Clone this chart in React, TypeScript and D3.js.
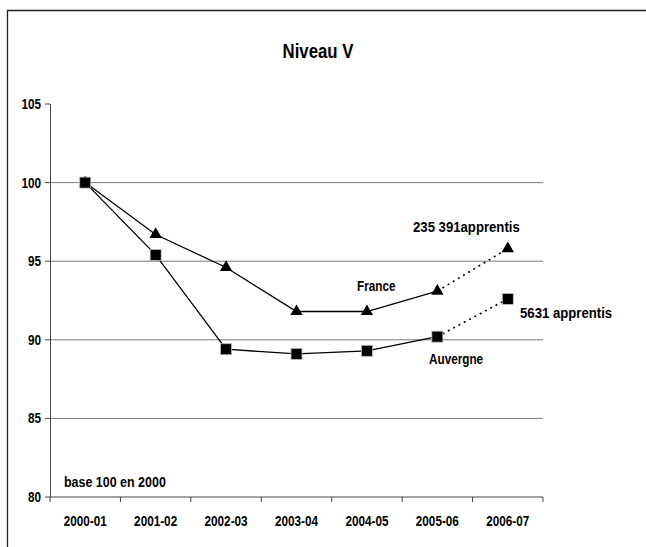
import React from "react";
import * as d3 from "d3";

const years = ["2000-01", "2001-02", "2002-03", "2003-04", "2004-05", "2005-06", "2006-07"];
const france = [100, 96.7, 94.6, 91.8, 91.8, 93.1, 95.8];
const auvergne = [100, 95.4, 89.4, 89.1, 89.3, 90.2, 92.6];
const yTicks = [80, 85, 90, 95, 100, 105];
const gridValues = [85, 90, 95, 100];

const W = 646;
const H = 547;
const font = "'Liberation Sans', Arial, sans-serif";

// the original uses a condensed face: squeeze Liberation Sans horizontally
function T({ x, y, size = 14, anchor = "start", sx = 0.84, children }: any) {
  return (
    <text transform={`translate(${x},${y}) scale(${sx},1)`} textAnchor={anchor} fontSize={size}>
      {children}
    </text>
  );
}

export default function App() {
  const x = d3.scaleBand().domain(years).range([50, 543]).paddingInner(0).paddingOuter(0);
  const y = d3.scaleLinear().domain([80, 105]).range([497, 104]);
  const cx = (d: string) => (x(d) as number) + x.bandwidth() / 2;

  const line = d3
    .line<number>()
    .x((_, i) => cx(years[i]))
    .y((v) => y(v));

  // solid part up to 2005-06, dotted for the last year
  const solid = (s: number[]) => line(s.slice(0, 6)) as string;
  const dotted = (s: number[]) =>
    d3
      .line<number>()
      .x((_, i) => cx(years[i + 5]))
      .y((v) => y(v))(s.slice(5)) as string;

  const tri = d3.symbol().type(d3.symbolTriangle).size(66)() as string;

  return (
    <svg
      width={W}
      height={H}
      style={{ position: "absolute", left: 0, top: 0, background: "#fff" }}
      fontFamily={font}
      fontWeight="bold"
    >
      <rect width={W} height={H} fill="#fff" />
      {/* outer frame */}
      <path d={`M7.5,${H}V10.5H${W}`} fill="none" stroke="#222" strokeWidth={1.3} />

      <T x={318} y={58} size={20} anchor="middle">
        Niveau V
      </T>

      {/* grid */}
      {gridValues.map((v) => (
        <line key={v} x1={50} x2={543} y1={y(v)} y2={y(v)} stroke="#7a7a7a" strokeWidth={1} />
      ))}

      {/* y axis */}
      <line x1={50.5} x2={50.5} y1={y(105)} y2={y(80)} stroke="#444" strokeWidth={1} />
      {yTicks.map((v) => (
        <g key={v}>
          <line x1={45} x2={50} y1={y(v)} y2={y(v)} stroke="#444" />
          <T x={41} y={y(v) + 5} anchor="end">
            {v}
          </T>
        </g>
      ))}

      {/* x axis */}
      <line x1={50} x2={543} y1={y(80)} y2={y(80)} stroke="#444" strokeWidth={1} />
      {years.map((d) => (
        <line key={d} x1={x(d) as number} x2={x(d) as number} y1={y(80)} y2={y(80) + 5} stroke="#444" />
      ))}
      <line x1={543} x2={543} y1={y(80)} y2={y(80) + 5} stroke="#444" />
      {years.map((d) => (
        <T key={d} x={cx(d)} y={526} anchor="middle">
          {d}
        </T>
      ))}

      {/* series lines */}
      <path d={solid(france)} fill="none" stroke="#000" strokeWidth={1.3} />
      <path d={solid(auvergne)} fill="none" stroke="#000" strokeWidth={1.3} />
      <path d={dotted(france)} fill="none" stroke="#000" strokeWidth={1.6} strokeDasharray="2,4" />
      <path d={dotted(auvergne)} fill="none" stroke="#000" strokeWidth={1.6} strokeDasharray="2,4" />

      {/* markers */}
      {france.map((v, i) => (
        <path key={"f" + i} d={tri} transform={`translate(${cx(years[i])},${y(v)})`} fill="#000" />
      ))}
      {auvergne.map((v, i) => (
        <rect
          key={"a" + i}
          x={cx(years[i]) - 5.5}
          y={y(v) - 5.5}
          width={11}
          height={11}
          fill="#000"
          stroke="#bbb"
          strokeWidth={0.8}
        />
      ))}

      {/* annotations */}
      <T x={64} y={487} sx={0.89}>base 100 en 2000</T>
      <T x={357} y={291}>France</T>
      <T x={429} y={364}>Auvergne</T>
      <T x={413} y={232} sx={0.94}>235 391apprentis</T>
      <T x={520} y={318} sx={0.94}>5631 apprentis</T>
    </svg>
  );
}
